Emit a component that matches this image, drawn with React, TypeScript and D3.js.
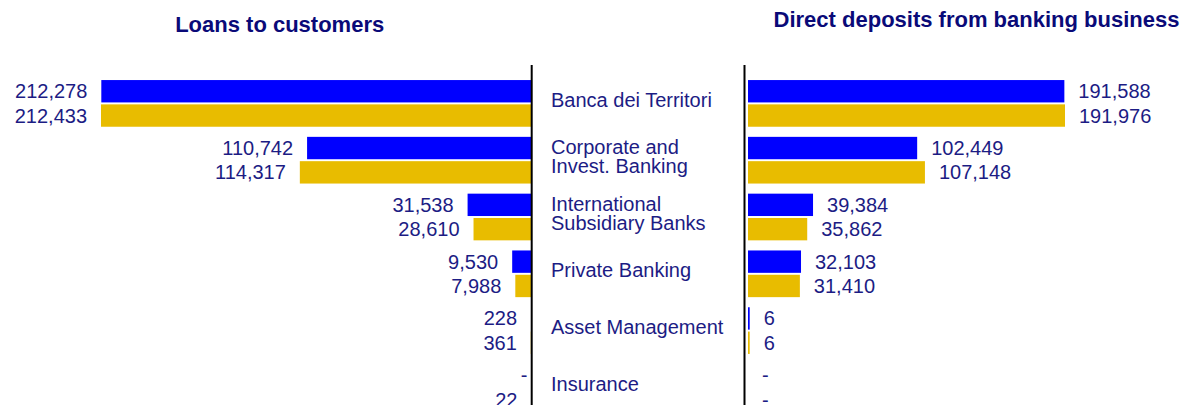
import React from "react";
import * as d3 from "d3";

const categories = [
  "Banca dei Territori",
  "Corporate and\nInvest. Banking",
  "International\nSubsidiary Banks",
  "Private Banking",
  "Asset Management",
  "Insurance",
];
const seriesKeys = ["current", "previous"];
const loansCurrent = [212278, 110742, 31538, 9530, 228, 0];
const loansPrevious = [212433, 114317, 28610, 7988, 361, 22];
const depositsCurrent = [191588, 102449, 39384, 32103, 6, 0];
const depositsPrevious = [191976, 107148, 35862, 31410, 6, 0];
const titles = ["Loans to customers", "Direct deposits from banking business"];

const COLORS: Record<string, string> = { current: "#0000FF", previous: "#E8BC00" };
const TEXT = "#1c1c84";
const TITLE = "#0a0a78";
const FONT = "'Liberation Sans', Arial, Helvetica, sans-serif";

const W = 1185;
const H = 405;

export default function App() {
  const fmt = (v: number) => (v === 0 ? "-" : d3.format(",")(v));

  const y = d3
    .scaleBand<string>()
    .domain(categories)
    .range([75, 75 + categories.length * 56.8])
    .paddingInner(0.178)
    .paddingOuter(0.089);
  const ySub = d3.scaleBand<string>().domain(seriesKeys).range([0, y.bandwidth()]).paddingInner(0.08);

  const leftMax = d3.max([...loansCurrent, ...loansPrevious]) as number;
  const rightMax = d3.max([...depositsCurrent, ...depositsPrevious]) as number;
  const xLeft = d3.scaleLinear().domain([0, leftMax]).range([531.5, 101]);
  const xRight = d3.scaleLinear().domain([0, rightMax]).range([748, 1065]);

  const leftData = [loansCurrent, loansPrevious];
  const rightData = [depositsCurrent, depositsPrevious];
  const minW = 1.7;

  return (
    <div style={{ position: "fixed", left: 0, top: 0, width: W, height: H, background: "#fff" }}>
      <svg width={W} height={H} style={{ display: "block" }} fontFamily={FONT}>
        <rect width={W} height={H} fill="#fff" />
        <text x={279.7} y={31.5} textAnchor="middle" fontSize={22} fontWeight="bold" fill={TITLE}>
          {titles[0]}
        </text>
        <text x={976.5} y={27} textAnchor="middle" fontSize={22} fontWeight="bold" fill={TITLE}>
          {titles[1]}
        </text>

        {categories.map((c, i) => {
          const y0 = y(c) as number;
          return (
            <g key={c}>
              {seriesKeys.map((k, j) => {
                const v = leftData[j][i];
                const by = y0 + (ySub(k) as number);
                const bh = ySub.bandwidth();
                const w = xLeft(0) - xLeft(v);
                return (
                  <g key={k}>
                    {w > 0 && <rect x={xLeft(v)} y={by} width={w} height={bh} fill={COLORS[k]} />}
                    <text
                      x={v === 0 ? xLeft(0) - 4 : xLeft(v) - 14}
                      y={by + bh / 2 + 7}
                      textAnchor="end"
                      fontSize={20}
                      fill={TEXT}
                    >
                      {fmt(v)}
                    </text>
                  </g>
                );
              })}
              {seriesKeys.map((k, j) => {
                const v = rightData[j][i];
                const by = y0 + (ySub(k) as number);
                const bh = ySub.bandwidth();
                const w = v === 0 ? 0 : Math.max(xRight(v) - xRight(0), minW);
                return (
                  <g key={"r" + k}>
                    {w > 0 && <rect x={xRight(0)} y={by} width={w} height={bh} fill={COLORS[k]} />}
                    <text x={xRight(0) + w + 14} y={by + bh / 2 + 7} textAnchor="start" fontSize={20} fill={TEXT}>
                      {fmt(v)}
                    </text>
                  </g>
                );
              })}
              {(() => {
                const lines = c.split("\n");
                const cy = y0 + y.bandwidth() / 2 - 3.5;
                const lh = 19.5;
                return (
                  <text x={551} fontSize={20} fill={TEXT}>
                    {lines.map((l, li) => (
                      <tspan key={li} x={551} y={cy + 7 + (li - (lines.length - 1) / 2) * lh}>
                        {l}
                      </tspan>
                    ))}
                  </text>
                );
              })()}
            </g>
          );
        })}

        <line x1={531.7} x2={531.7} y1={65} y2={H} stroke="#000" strokeWidth={2} />
        <line x1={744.5} x2={744.5} y1={65} y2={H} stroke="#000" strokeWidth={2} />
      </svg>
    </div>
  );
}
